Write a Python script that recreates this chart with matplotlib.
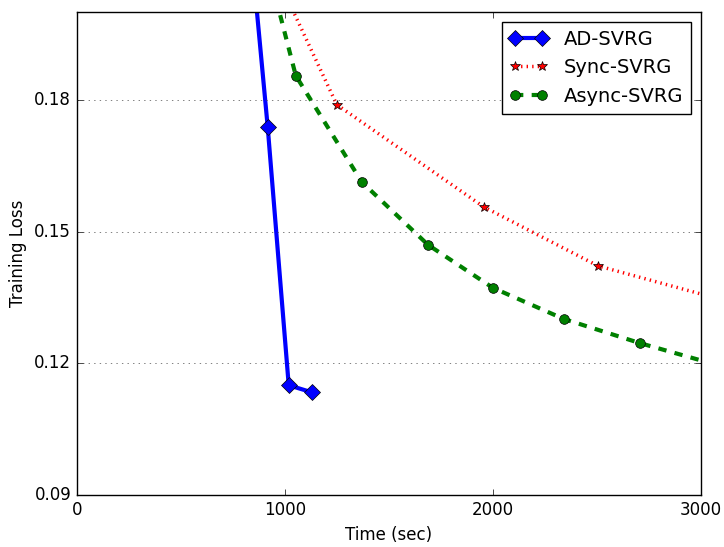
import numpy as np
import matplotlib
matplotlib.use('Agg')
import matplotlib.pyplot as plt

plt.style.use('classic')

# data (time in sec, training loss)
t_ad = [815, 918, 1019, 1130]
loss_ad = [0.226, 0.1738, 0.1150, 0.1134]

t_sync = [1000, 1250, 1957, 2505, 3100]
loss_sync = [0.2043, 0.1789, 0.1556, 0.1422, 0.1345]

t_async = [930, 1053, 1370, 1688, 2000, 2341, 2707, 3050]
loss_async = [0.2081, 0.1855, 0.1613, 0.1470, 0.1372, 0.1301, 0.1246, 0.1200]

fig = plt.figure(figsize=(7.24, 5.47), dpi=100)
ax = fig.add_axes([0.106, 0.095, 0.862, 0.883])

ax.plot(t_ad, loss_ad, 'b-', marker='D', markersize=8, linewidth=3,
        markevery=[1, 2, 3], label='AD-SVRG')
ax.plot(t_sync, loss_sync, 'r:', marker='*', markersize=7, linewidth=2.5,
        markeredgecolor='k', markevery=[1, 2, 3], label='Sync-SVRG')
ax.plot(t_async, loss_async, 'g--', marker='o', markersize=7, linewidth=3,
        markevery=list(range(1, 7)), label='Async-SVRG')

ax.set_xlim(0, 3000)
ax.set_ylim(0.09, 0.2)
ax.set_xticks([0, 1000, 2000, 3000])
ax.set_yticks([0.09, 0.12, 0.15, 0.18])
ax.yaxis.grid(True, linestyle=':', color='0.3')
ax.tick_params(labelsize=12)

ax.set_xlabel('Time (sec)', fontsize=12)
ax.set_ylabel('Training Loss', fontsize=12)
ax.legend(loc='upper right', fontsize=14, numpoints=2)

fig.savefig('out.png', dpi=100)
